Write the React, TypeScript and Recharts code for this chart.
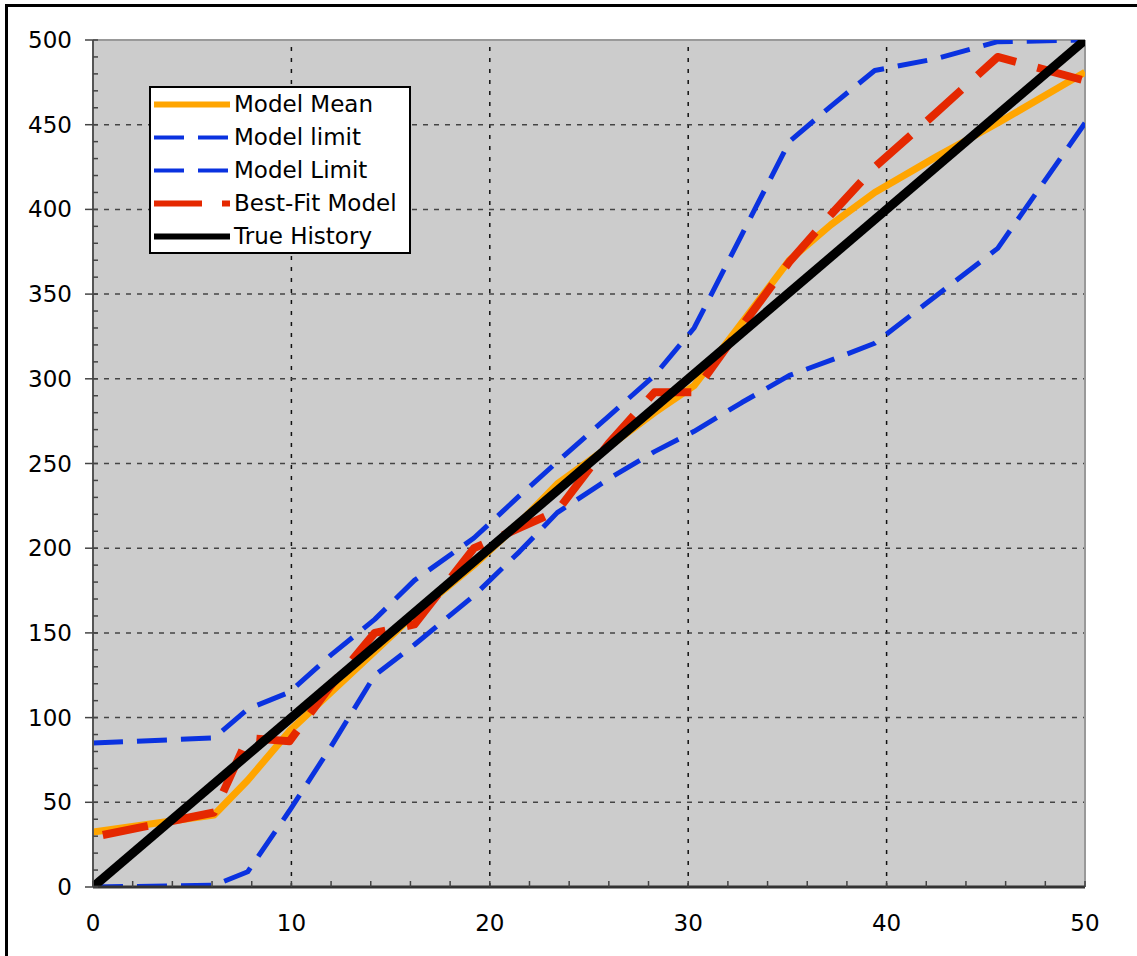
import React from 'react';
import {
  ComposedChart,
  Line,
  XAxis,
  YAxis,
  ReferenceLine,
  CartesianGrid,
  Legend,
} from 'recharts';

// Shared sample positions (time axis) and the values of each series at them
const xValues = [0, 6.1, 7.8, 9.9, 12, 14.2, 16.2, 19.2, 21.5, 23.4, 26, 28.3, 30.3, 32.7, 35.1, 37.2, 39.4, 42.5, 45.6, 50];
const modelMean = [32.5, 42.5, 63, 92, 115, 139, 161, 190, 215, 238, 260, 280, 296, 333, 370, 391, 410, 431, 451, 481];
const modelLimitUpper = [85, 88, 105, 115, 137, 158, 181, 206, 231, 251, 278, 302, 330, 385, 440, 461, 482, 489, 499, 500];
const modelLimitLower = [0, 1, 9, 45, 83, 125, 143, 172, 198, 221, 241, 257, 269, 286, 302, 311, 321, 349, 377, 451];
const bestFitModel = [29.5, 44, 88, 86, 119, 150, 155, 200, 212, 222, 262, 292, 292, 331, 369, 397, 425, 457, 490, 476];
const trueHistory = [0, null, null, null, null, null, null, null, null, null, null, null, null, null, null, null, null, null, null, 500];

// Axis ticks
const xMajorTicks = [0, 10, 20, 30, 40, 50];
const yMajorTicks = [0, 50, 100, 150, 200, 250, 300, 350, 400, 450, 500];
const xAllTicks = Array.from({ length: 26 }, (_, i) => i * 2);
const yAllTicks = Array.from({ length: 51 }, (_, i) => i * 10);
const xGridLines = [10, 20, 30, 40];
const yGridLines = [50, 100, 150, 200, 250, 300, 350, 400, 450];

const rows = xValues.map((x, i) => ({
  x,
  mean: modelMean[i],
  upper: modelLimitUpper[i],
  lower: modelLimitLower[i],
  best: bestFitModel[i],
  truth: trueHistory[i],
}));

const FONT = '"DejaVu Sans", Verdana, sans-serif';

type SeriesStyle = { color: string; width: number; legendWidth: number; dash?: string };
const seriesStyle: Record<string, SeriesStyle> = {
  mean: { color: '#FFA500', width: 7, legendWidth: 6 },
  upper: { color: '#0A32E0', width: 5, legendWidth: 4, dash: '30 14' },
  lower: { color: '#0A32E0', width: 5, legendWidth: 4, dash: '30 14' },
  best: { color: '#E52800', width: 8, legendWidth: 6, dash: '46 22' },
  truth: { color: '#000000', width: 9, legendWidth: 6 },
};
const seriesNames: Record<string, string> = {
  mean: 'Model Mean',
  upper: 'Model limit',
  lower: 'Model Limit',
  best: 'Best-Fit Model',
  truth: 'True History',
};
const seriesOrder = ['mean', 'upper', 'lower', 'best', 'truth'];

const XTick = (props: any) => {
  const { x, y, payload } = props;
  const major = xMajorTicks.includes(payload.value);
  return (
    <g>
      <line x1={x} x2={x} y1={y} y2={y - 6} stroke="#444" strokeWidth={1.5} />
      {major && (
        <text x={x} y={y + 44} textAnchor="middle" fontFamily={FONT} fontSize={23} fill="#000">
          {payload.value}
        </text>
      )}
    </g>
  );
};

const YTick = (props: any) => {
  const { x, y, payload } = props;
  const major = yMajorTicks.includes(payload.value);
  return (
    <g>
      <line x1={major ? x - 8 : x} x2={x + 5} y1={y} y2={y} stroke="#444" strokeWidth={1.5} />
      {major && (
        <text x={x - 21} y={y + 8} textAnchor="end" fontFamily={FONT} fontSize={23} fill="#000">
          {payload.value}
        </text>
      )}
    </g>
  );
};

// Legend entries are listed in series order, not sorted by name
const LegendBox = () => (
  <div
    style={{
      boxSizing: 'border-box',
      width: 262,
      height: 168,
      border: '2px solid #000',
      background: '#fff',
      paddingTop: 0,
    }}
  >
    {seriesOrder.map((key) => {
      const s = seriesStyle[key];
      return (
        <div key={key} style={{ height: 33, display: 'flex', alignItems: 'center' }}>
          <svg width={80} height={33} style={{ display: 'block', flex: 'none' }}>
            <line
              x1={3}
              x2={79}
              y1={16.5}
              y2={16.5}
              stroke={s.color}
              strokeWidth={s.legendWidth}
              strokeDasharray={key === 'best' ? '48 20' : s.dash}
            />
          </svg>
          <span
            style={{
              marginLeft: 3,
              fontFamily: FONT,
              fontSize: 23,
              color: '#000',
              whiteSpace: 'nowrap',
              lineHeight: '33px',
            }}
          >
            {seriesNames[key]}
          </span>
        </div>
      );
    })}
  </div>
);

export default function App() {
  return (
    <div style={{ position: 'absolute', left: 0, top: 0, width: 1137, height: 956 }}>
      <div
        style={{
          position: 'absolute',
          left: 5,
          top: 4,
          width: 1132,
          height: 952,
          borderTop: '3px solid #000',
          borderLeft: '3px solid #000',
          boxSizing: 'border-box',
        }}
      />
      <ComposedChart
        width={1137}
        height={956}
        data={rows}
        margin={{ top: 40, right: 52, bottom: 0, left: 0 }}
      >
        <CartesianGrid fill="#CCCCCC" fillOpacity={1} stroke="none" horizontal={false} vertical={false} />
        {xGridLines.map((v) => (
          <ReferenceLine key={`gx${v}`} x={v} stroke="#111" strokeWidth={1.5} strokeDasharray="4 7" />
        ))}
        {yGridLines.map((v) => (
          <ReferenceLine key={`gy${v}`} y={v} stroke="#444" strokeWidth={1.5} strokeDasharray="5 6" />
        ))}
        <ReferenceLine x={50} stroke="#999" strokeWidth={2} />
        <ReferenceLine y={500} stroke="#999" strokeWidth={2} />
        <XAxis
          dataKey="x"
          type="number"
          domain={[0, 50]}
          ticks={xAllTicks}
          interval={0}
          allowDataOverflow
          tickLine={false}
          tickSize={0}
          tickMargin={0}
          height={69}
          axisLine={{ stroke: '#333', strokeWidth: 3 }}
          tick={(p: any) => <XTick {...p} />}
        />
        <YAxis
          type="number"
          domain={[0, 500]}
          ticks={yAllTicks}
          interval={0}
          allowDataOverflow
          tickLine={false}
          tickSize={0}
          tickMargin={0}
          width={93}
          axisLine={{ stroke: '#555', strokeWidth: 2 }}
          tick={(p: any) => <YTick {...p} />}
        />
        <Legend
          layout="vertical"
          align="center"
          verticalAlign="middle"
          wrapperStyle={{ left: 149, top: 86, width: 262, height: 168 }}
          content={() => <LegendBox />}
        />
        {seriesOrder.map((key) => {
          const s = seriesStyle[key];
          return (
            <Line
              key={key}
              dataKey={key}
              name={seriesNames[key]}
              type="linear"
              stroke={s.color}
              strokeWidth={s.width}
              strokeDasharray={s.dash}
              strokeDashoffset={key === 'best' ? 58 : undefined}
              strokeLinejoin="round"
              dot={false}
              activeDot={false}
              connectNulls
              isAnimationActive={false}
            />
          );
        })}
      </ComposedChart>
    </div>
  );
}
